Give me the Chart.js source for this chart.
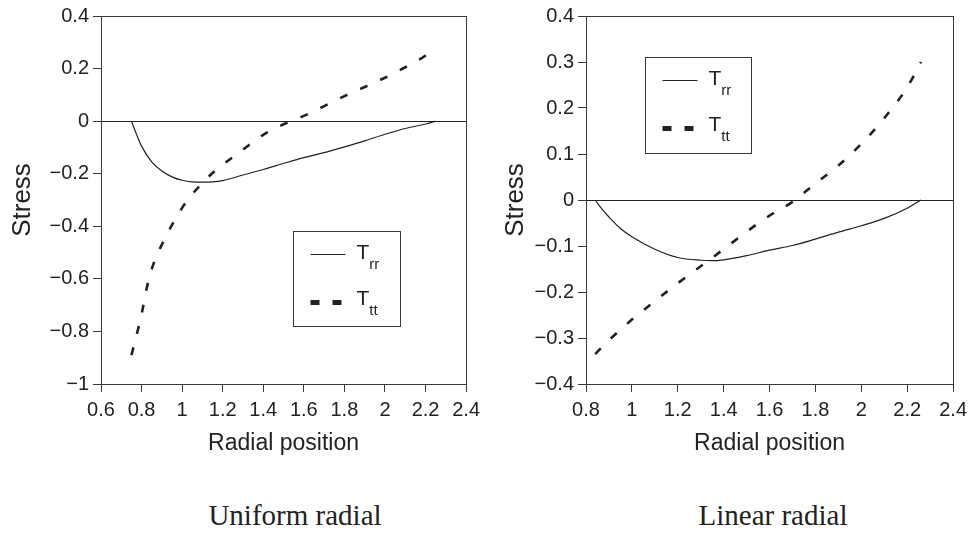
<!DOCTYPE html>
<html>
<head>
<meta charset="utf-8">
<script src="https://cdn.jsdelivr.net/npm/chart.js@4.4.0/dist/chart.umd.min.js"></script>
<style>
  html, body { margin: 0; padding: 0; background: #fff; }
  #wrap { position: relative; width: 973px; height: 533px; overflow: hidden; }
  canvas { position: absolute; top: 0; }
  .cap {
    position: absolute; top: 501px; transform: translateX(-50%);
    font-family: 'Liberation Serif', 'Times New Roman', serif;
    font-size: 29px; line-height: 29px; color: #222; white-space: nowrap;
  }
</style>
</head>
<body>
<div id="wrap">
  <canvas id="uniform" width="486" height="460" style="left:0"></canvas>
  <canvas id="linear" width="487" height="460" style="left:486px"></canvas>
  <div class="cap" style="left:295px">Uniform radial</div>
  <div class="cap" style="left:773px">Linear radial</div>
</div>
<script>
// ── Uniform radial (left) ──
const uniRrX = [0.75, 0.77, 0.8, 0.85, 0.9, 0.95, 1.0, 1.05, 1.1, 1.15, 1.2, 1.3, 1.4, 1.5, 1.6, 1.7, 1.8, 1.9, 2.0, 2.1, 2.2, 2.25];
const uniRrY = [0, -0.04, -0.095, -0.155, -0.19, -0.212, -0.225, -0.231, -0.232, -0.231, -0.226, -0.205, -0.184, -0.161, -0.139, -0.12, -0.098, -0.075, -0.05, -0.028, -0.011, 0];
const uniTtX = [0.75, 0.78, 0.8, 0.83, 0.86, 0.9, 0.95, 1.0, 1.05, 1.1, 1.15, 1.2, 1.3, 1.4, 1.5, 1.6, 1.7, 1.8, 1.9, 2.0, 2.1, 2.2, 2.25];
const uniTtY = [-0.89, -0.8, -0.735, -0.62, -0.54, -0.47, -0.395, -0.33, -0.278, -0.235, -0.197, -0.166, -0.108, -0.052, -0.012, 0.02, 0.057, 0.095, 0.13, 0.165, 0.205, 0.25, 0.285];
const uniXTicks = [0.6, 0.8, 1.0, 1.2, 1.4, 1.6, 1.8, 2.0, 2.2, 2.4];
const uniYTicks = [-1, -0.8, -0.6, -0.4, -0.2, 0, 0.2, 0.4];

// ── Linear radial (right) ──
const linRrX = [0.84, 0.87, 0.9, 0.95, 1.0, 1.1, 1.2, 1.3, 1.35, 1.4, 1.5, 1.6, 1.7, 1.8, 1.9, 2.0, 2.1, 2.2, 2.26];
const linRrY = [0, -0.02, -0.037, -0.062, -0.08, -0.107, -0.125, -0.131, -0.132, -0.13, -0.121, -0.109, -0.099, -0.085, -0.07, -0.056, -0.04, -0.018, 0];
const linTtX = [0.84, 0.9, 1.0, 1.1, 1.2, 1.3, 1.4, 1.5, 1.6, 1.7, 1.8, 1.9, 2.0, 2.1, 2.2, 2.26];
const linTtY = [-0.335, -0.305, -0.26, -0.22, -0.181, -0.144, -0.107, -0.069, -0.034, -0.004, 0.036, 0.075, 0.122, 0.178, 0.245, 0.3];
const linXTicks = [0.8, 1.0, 1.2, 1.4, 1.6, 1.8, 2.0, 2.2, 2.4];
const linYTicks = [-0.4, -0.3, -0.2, -0.1, 0, 0.1, 0.2, 0.3, 0.4];

const seriesMain = ['T', 'T'];
const seriesSub = ['rr', 'tt'];

const SANS = "'Liberation Sans', Arial, sans-serif";
const INK = '#222';
const AXIS = '#3a3a3a';

const pts = (xs, ys) => xs.map((x, i) => ({ x, y: ys[i] }));
const fmt = v => String(parseFloat(v.toFixed(2))).replace('-', '\u2212');

// box round the plot area (top + right sides)
const framePlugin = {
  id: 'frame',
  afterDatasetsDraw(chart) {
    const { ctx, chartArea: a } = chart;
    ctx.save();
    ctx.strokeStyle = AXIS;
    ctx.lineWidth = 1;
    ctx.strokeRect(Math.round(a.left) + 0.5, Math.round(a.top) + 0.5, Math.round(a.right - a.left), Math.round(a.bottom - a.top));
    ctx.restore();
  }
};

// legend with subscripts, boxed inside the plot
const subLegend = {
  id: 'subLegend',
  afterDraw(chart, args, o) {
    const { ctx, chartArea: a } = chart;
    const w = a.right - a.left, h = a.bottom - a.top;
    const bx = Math.round(a.left + o.fx * w) + 0.5;
    const by = Math.round(a.top + o.fy * h) + 0.5;
    const bw = Math.round(o.fw * w), bh = Math.round(o.fh * h);
    ctx.save();
    ctx.fillStyle = '#fff';
    ctx.fillRect(bx, by, bw, bh);
    ctx.strokeStyle = AXIS;
    ctx.lineWidth = 1;
    ctx.strokeRect(bx, by, bw, bh);

    // solid sample
    ctx.strokeStyle = INK;
    ctx.lineWidth = 1.2;
    ctx.beginPath();
    ctx.moveTo(bx + 17, by + 23);
    ctx.lineTo(bx + 52, by + 23);
    ctx.stroke();
    // dashed sample
    ctx.lineWidth = 5;
    ctx.setLineDash([9, 13]);
    ctx.beginPath();
    ctx.moveTo(bx + 17, by + 71);
    ctx.lineTo(bx + 52, by + 71);
    ctx.stroke();
    ctx.setLineDash([]);

    ctx.fillStyle = INK;
    ctx.textBaseline = 'alphabetic';
    [by + 27, by + 73].forEach((yb, i) => {
      ctx.font = '21px ' + SANS;
      ctx.fillText(seriesMain[i], bx + 63, yb);
      const tw = ctx.measureText(seriesMain[i]).width;
      ctx.font = '15px ' + SANS;
      ctx.fillText(seriesSub[i], bx + 63 + tw, yb + 10);
    });
    ctx.restore();
  }
};

function makeChart(id, s) {
  return new Chart(document.getElementById(id), {
    type: 'line',
    data: {
      datasets: [
        { label: 'Trr', data: pts(s.rrX, s.rrY), borderColor: INK, borderWidth: 1.2,
          pointRadius: 0, cubicInterpolationMode: 'monotone', fill: false },
        { label: 'Ttt', data: pts(s.ttX, s.ttY), borderColor: INK, borderWidth: 2.6,
          borderDash: [8, 14], pointRadius: 0, cubicInterpolationMode: 'monotone', fill: false }
      ]
    },
    options: {
      responsive: false,
      animation: false,
      events: [],
      layout: { padding: { top: 15, right: s.padRight, bottom: 0, left: 0 } },
      plugins: {
        legend: { display: false },
        tooltip: { enabled: false },
        subLegend: s.legend
      },
      scales: {
        x: {
          type: 'linear',
          min: s.xTicks[0], max: s.xTicks[s.xTicks.length - 1],
          afterBuildTicks: sc => { sc.ticks = s.xTicks.map(v => ({ value: v })); },
          afterFit: sc => { sc.height = 76; },
          ticks: { callback: fmt, autoSkip: false, maxRotation: 0, padding: 6,
                   color: INK, font: { family: SANS, size: 20 } },
          grid: { drawOnChartArea: false, tickLength: 8, tickColor: AXIS },
          border: { color: AXIS },
          title: { display: true, text: 'Radial position', color: INK,
                   font: { family: SANS, size: 23 }, padding: { top: 0, bottom: 3 } }
        },
        y: {
          type: 'linear',
          min: s.yTicks[0], max: s.yTicks[s.yTicks.length - 1],
          afterBuildTicks: sc => { sc.ticks = s.yTicks.map(v => ({ value: v })); },
          afterFit: sc => { sc.width = s.axisW; },
          ticks: { callback: fmt, padding: 4, color: INK, font: { family: SANS, size: 20 } },
          grid: {
            color: c => (c.tick && Math.abs(c.tick.value) < 1e-9) ? INK : 'rgba(0,0,0,0)',
            lineWidth: 1, tickLength: 8, tickColor: AXIS
          },
          border: { color: AXIS },
          title: { display: true, text: 'Stress', color: INK,
                   font: { family: SANS, size: 26 }, padding: { top: s.titlePad, bottom: 0 } }
        }
      }
    },
    plugins: [framePlugin, subLegend]
  });
}

makeChart('uniform', {
  rrX: uniRrX, rrY: uniRrY, ttX: uniTtX, ttY: uniTtY,
  xTicks: uniXTicks, yTicks: uniYTicks,
  axisW: 101, padRight: 15, titlePad: 7.4,
  legend: { fx: 0.526, fy: 0.583, fw: 0.294, fh: 0.259 }
});

makeChart('linear', {
  rrX: linRrX, rrY: linRrY, ttX: linTtX, ttY: linTtY,
  xTicks: linXTicks, yTicks: linYTicks,
  axisW: 100, padRight: 17, titlePad: 14.4,
  legend: { fx: 0.162, fy: 0.111, fw: 0.288, fh: 0.261 }
});
</script>
</body>
</html>
